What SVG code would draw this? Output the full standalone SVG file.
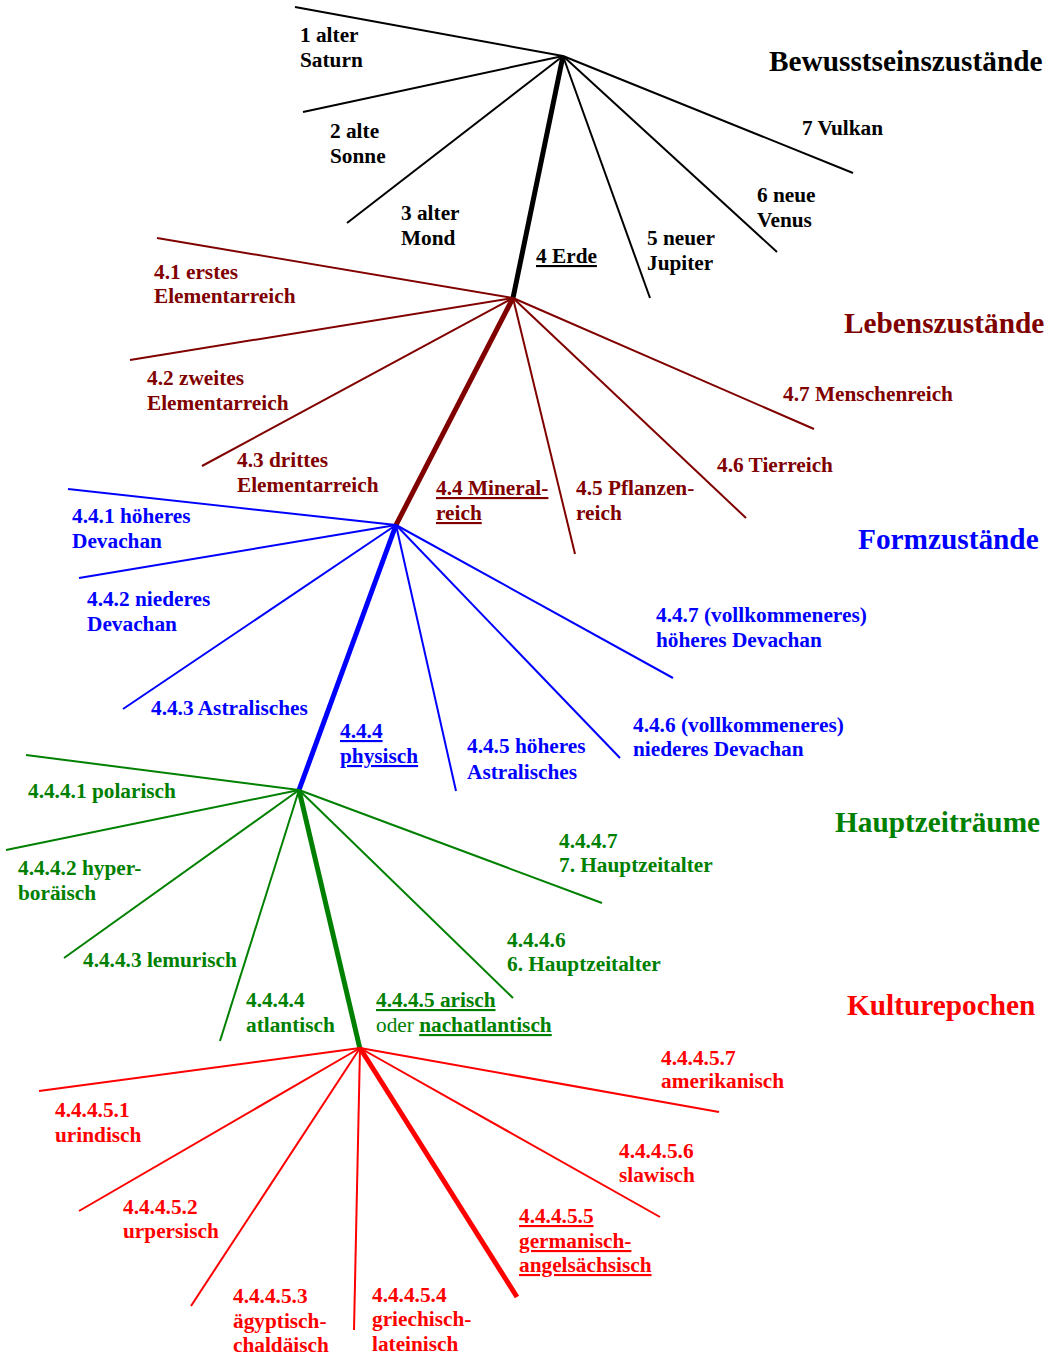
<svg xmlns="http://www.w3.org/2000/svg" width="1055" height="1356" viewBox="0 0 1055 1356">
<style>
text{font-family:"Liberation Serif","Times New Roman",serif;font-weight:bold;font-size:21.3px}
.t{font-size:29.3px}
.u{text-decoration:underline}
.n{font-weight:normal}
.k{fill:#000}.dr{fill:#800000}.b{fill:#0000FF}.g{fill:#008000}.r{fill:#FF0000}
line{stroke-linecap:butt}
.lk{stroke:#000;stroke-width:2}.ldr{stroke:#800000;stroke-width:2}.lb{stroke:#0000FF;stroke-width:2}.lg{stroke:#008000;stroke-width:2}.lr{stroke:#FF0000;stroke-width:2}
.th{stroke-width:5}
</style>
<rect width="1055" height="1356" fill="#fff"/>
<g id="connectors">
<line class="lk" x1="563" y1="56" x2="295" y2="7"/>
<line class="lk" x1="563" y1="56" x2="303" y2="112"/>
<line class="lk" x1="563" y1="56" x2="347" y2="223"/>
<line class="lk th" x1="563" y1="56" x2="513" y2="298"/>
<line class="lk" x1="563" y1="56" x2="650" y2="298"/>
<line class="lk" x1="563" y1="56" x2="777" y2="252"/>
<line class="lk" x1="563" y1="56" x2="853" y2="173"/>
<line class="ldr" x1="513" y1="298" x2="157" y2="238"/>
<line class="ldr" x1="513" y1="298" x2="130" y2="360"/>
<line class="ldr" x1="513" y1="298" x2="202" y2="466"/>
<line class="ldr th" x1="513" y1="298" x2="396" y2="525"/>
<line class="ldr" x1="513" y1="298" x2="575" y2="554"/>
<line class="ldr" x1="513" y1="298" x2="746" y2="518"/>
<line class="ldr" x1="513" y1="298" x2="814" y2="429"/>
<line class="lb" x1="396" y1="525" x2="68" y2="489"/>
<line class="lb" x1="396" y1="525" x2="79" y2="578"/>
<line class="lb" x1="396" y1="525" x2="123" y2="709"/>
<line class="lb th" x1="396" y1="525" x2="299" y2="790"/>
<line class="lb" x1="396" y1="525" x2="456" y2="791"/>
<line class="lb" x1="396" y1="525" x2="620" y2="758"/>
<line class="lb" x1="396" y1="525" x2="673" y2="678"/>
<line class="lg" x1="299" y1="790" x2="26" y2="755"/>
<line class="lg" x1="299" y1="790" x2="6" y2="850"/>
<line class="lg" x1="299" y1="790" x2="64" y2="958"/>
<line class="lg" x1="299" y1="790" x2="220" y2="1041"/>
<line class="lg th" x1="299" y1="790" x2="360" y2="1049"/>
<line class="lg" x1="299" y1="790" x2="513" y2="998"/>
<line class="lg" x1="299" y1="790" x2="602" y2="903"/>
<line class="lr" x1="360" y1="1048" x2="39" y2="1091"/>
<line class="lr" x1="360" y1="1048" x2="79" y2="1211"/>
<line class="lr" x1="360" y1="1048" x2="191" y2="1306"/>
<line class="lr" x1="360" y1="1048" x2="354" y2="1330"/>
<line class="lr th" x1="360" y1="1048" x2="517" y2="1297"/>
<line class="lr" x1="360" y1="1048" x2="660" y2="1217"/>
<line class="lr" x1="360" y1="1048" x2="719" y2="1112"/>
</g>
<g id="title-bewusstsein"><text class="t k" x="769" y="71">Bewusstseinszustände</text></g>
<g id="n1"><text class="k" x="300" y="42">1 alter</text><text class="k" x="300" y="67">Saturn</text></g>
<g id="n2"><text class="k" x="330" y="138">2 alte</text><text class="k" x="330" y="163">Sonne</text></g>
<g id="n3"><text class="k" x="401" y="220">3 alter</text><text class="k" x="401" y="245">Mond</text></g>
<g id="n4"><text class="k u" x="536" y="263">4 Erde</text></g>
<g id="n5"><text class="k" x="647" y="245">5 neuer</text><text class="k" x="647" y="270">Jupiter</text></g>
<g id="n6"><text class="k" x="757" y="202">6 neue</text><text class="k" x="757" y="227">Venus</text></g>
<g id="n7"><text class="k" x="802" y="135">7 Vulkan</text></g>
<g id="title-leben"><text class="t dr" x="844" y="333">Lebenszustände</text></g>
<g id="n4-1"><text class="dr" x="154" y="279">4.1 erstes</text><text class="dr" x="154" y="303">Elementarreich</text></g>
<g id="n4-2"><text class="dr" x="147" y="385">4.2 zweites</text><text class="dr" x="147" y="410">Elementarreich</text></g>
<g id="n4-3"><text class="dr" x="237" y="467">4.3 drittes</text><text class="dr" x="237" y="492">Elementarreich</text></g>
<g id="n4-4"><text class="dr u" x="436" y="495">4.4 Mineral-</text><text class="dr u" x="436" y="520">reich</text></g>
<g id="n4-5"><text class="dr" x="576" y="495">4.5 Pflanzen-</text><text class="dr" x="576" y="520">reich</text></g>
<g id="n4-6"><text class="dr" x="717" y="472">4.6 Tierreich</text></g>
<g id="n4-7"><text class="dr" x="783" y="401">4.7 Menschenreich</text></g>
<g id="title-form"><text class="t b" x="858" y="549">Formzustände</text></g>
<g id="n4-4-1"><text class="b" x="72" y="523">4.4.1 höheres</text><text class="b" x="72" y="548">Devachan</text></g>
<g id="n4-4-2"><text class="b" x="87" y="606">4.4.2 niederes</text><text class="b" x="87" y="631">Devachan</text></g>
<g id="n4-4-3"><text class="b" x="151" y="715">4.4.3 Astralisches</text></g>
<g id="n4-4-4"><text class="b u" x="340" y="738">4.4.4</text><text class="b u" x="340" y="763">physisch</text></g>
<g id="n4-4-5"><text class="b" x="467" y="753">4.4.5 höheres</text><text class="b" x="467" y="779">Astralisches</text></g>
<g id="n4-4-6"><text class="b" x="633" y="732">4.4.6 (vollkommeneres)</text><text class="b" x="633" y="756">niederes Devachan</text></g>
<g id="n4-4-7"><text class="b" x="656" y="622">4.4.7 (vollkommeneres)</text><text class="b" x="656" y="647">höheres Devachan</text></g>
<g id="title-haupt"><text class="t g" x="835" y="832">Hauptzeiträume</text></g>
<g id="n4-4-4-1"><text class="g" x="28" y="798">4.4.4.1 polarisch</text></g>
<g id="n4-4-4-2"><text class="g" x="18" y="875">4.4.4.2 hyper-</text><text class="g" x="18" y="900">boräisch</text></g>
<g id="n4-4-4-3"><text class="g" x="83" y="967">4.4.4.3 lemurisch</text></g>
<g id="n4-4-4-4"><text class="g" x="246" y="1007">4.4.4.4</text><text class="g" x="246" y="1032">atlantisch</text></g>
<g id="n4-4-4-5"><text class="g u" x="376" y="1007">4.4.4.5 arisch</text><text class="g" x="376" y="1032"><tspan class="n">oder </tspan><tspan class="u">nachatlantisch</tspan></text></g>
<g id="n4-4-4-6"><text class="g" x="507" y="947">4.4.4.6</text><text class="g" x="507" y="971">6. Hauptzeitalter</text></g>
<g id="n4-4-4-7"><text class="g" x="559" y="848">4.4.4.7</text><text class="g" x="559" y="872">7. Hauptzeitalter</text></g>
<g id="title-kultur"><text class="t r" x="847" y="1015">Kulturepochen</text></g>
<g id="n4-4-4-5-1"><text class="r" x="55" y="1117">4.4.4.5.1</text><text class="r" x="55" y="1142">urindisch</text></g>
<g id="n4-4-4-5-2"><text class="r" x="123" y="1214">4.4.4.5.2</text><text class="r" x="123" y="1238">urpersisch</text></g>
<g id="n4-4-4-5-3"><text class="r" x="233" y="1303">4.4.4.5.3</text><text class="r" x="233" y="1328">ägyptisch-</text><text class="r" x="233" y="1352">chaldäisch</text></g>
<g id="n4-4-4-5-4"><text class="r" x="372" y="1302">4.4.4.5.4</text><text class="r" x="372" y="1326">griechisch-</text><text class="r" x="372" y="1351">lateinisch</text></g>
<g id="n4-4-4-5-5"><text class="r u" x="519" y="1223">4.4.4.5.5</text><text class="r u" x="519" y="1248">germanisch-</text><text class="r u" x="519" y="1272">angelsächsisch</text></g>
<g id="n4-4-4-5-6"><text class="r" x="619" y="1158">4.4.4.5.6</text><text class="r" x="619" y="1182">slawisch</text></g>
<g id="n4-4-4-5-7"><text class="r" x="661" y="1065">4.4.4.5.7</text><text class="r" x="661" y="1088">amerikanisch</text></g>
</svg>
